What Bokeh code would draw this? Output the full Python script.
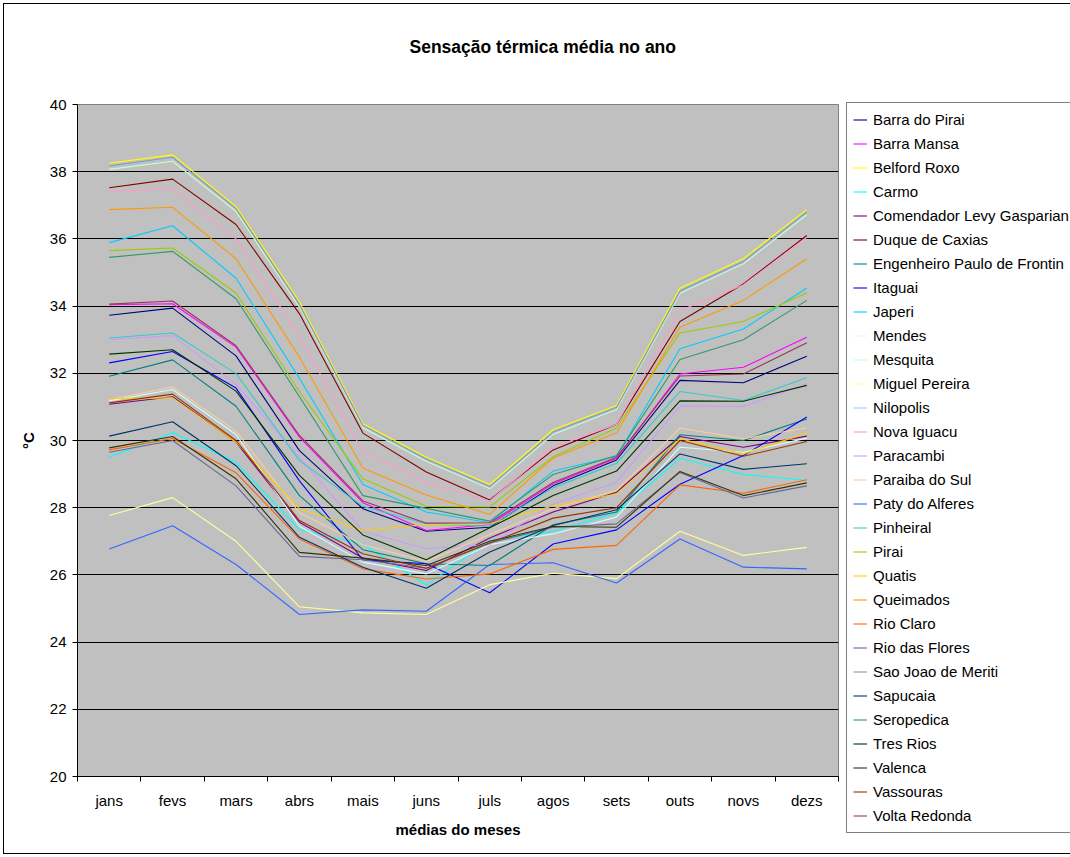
from bokeh.plotting import figure
from bokeh.models import Legend, LegendItem, FixedTicker, Range1d, Title
from bokeh.embed import file_html
from bokeh.resources import INLINE

# ---- data -------------------------------------------------------------
months = ["jans", "fevs", "mars", "abrs", "mais", "juns",
          "juls", "agos", "sets", "outs", "novs", "dezs"]

barra_do_pirai = [33.73, 33.94, 32.52, 29.70, 27.97, 27.30, 27.42, 28.65, 29.42, 31.79, 31.72, 32.51]
barra_mansa = [34.04, 34.07, 32.78, 30.10, 28.15, 27.32, 27.50, 28.71, 29.47, 31.98, 32.18, 33.07]
belford_roxo = [38.25, 38.50, 36.96, 34.12, 30.50, 29.50, 28.69, 30.32, 31.04, 34.53, 35.41, 36.87]
carmo = [29.50, 30.24, 29.35, 27.35, 26.92, 25.70, 27.02, 27.30, 27.84, 29.47, 28.99, 28.81]
comendador_levy_gasparian = [31.08, 31.30, 29.95, 27.57, 26.50, 26.13, 27.10, 27.87, 28.46, 30.12, 29.80, 30.13]
duque_de_caxias = [37.52, 37.78, 36.43, 33.77, 30.22, 29.06, 28.23, 29.72, 30.48, 33.54, 34.66, 36.10]
engenheiro_paulo_de_frontin = [31.91, 32.40, 31.02, 28.36, 26.75, 26.33, 26.28, 27.49, 27.87, 30.17, 30.00, 30.64]
itaguai = [32.31, 32.65, 31.56, 28.80, 26.45, 26.33, 25.47, 26.92, 27.34, 28.70, 29.55, 30.70]
japeri = [35.89, 36.39, 34.83, 31.85, 28.69, 27.87, 27.55, 29.09, 29.53, 32.73, 33.32, 34.54]
mendes = [31.18, 31.52, 30.18, 27.45, 26.38, 26.03, 26.90, 27.22, 27.72, 29.80, 29.65, 30.07]
mesquita = [38.07, 38.31, 36.82, 33.97, 30.38, 29.38, 28.57, 30.18, 30.92, 34.38, 35.26, 36.72]
miguel_pereira = [27.77, 28.30, 27.00, 25.05, 24.87, 24.82, 25.71, 26.05, 25.89, 27.30, 26.58, 26.82]
nilopolis = [38.15, 38.40, 36.88, 34.02, 30.42, 29.42, 28.60, 30.22, 30.95, 34.42, 35.30, 36.77]
nova_iguacu = [37.41, 37.49, 36.00, 33.10, 29.67, 28.76, 28.20, 29.80, 30.48, 33.87, 34.63, 36.05]
paracambi = [33.00, 33.12, 31.67, 29.50, 27.30, 26.78, 26.90, 28.11, 28.76, 31.03, 31.01, 31.69]
paraiba_do_sul = [31.22, 31.59, 30.28, 27.85, 26.90, 26.40, 27.20, 27.97, 28.51, 30.37, 30.05, 30.38]
paty_do_alferes = [26.77, 27.46, 26.31, 24.82, 24.96, 24.92, 26.31, 26.36, 25.76, 27.07, 26.23, 26.18]
pinheiral = [33.05, 33.20, 31.99, 29.40, 28.04, 27.52, 27.45, 28.59, 29.32, 31.46, 31.19, 31.87]
pirai = [35.65, 35.73, 34.39, 31.45, 28.86, 28.04, 28.02, 29.52, 30.37, 33.20, 33.54, 34.40]
quatis = [31.25, 31.27, 29.95, 27.97, 27.32, 27.50, 27.52, 28.06, 28.41, 30.05, 29.60, 30.22]
queimados = [36.87, 36.94, 35.41, 32.48, 29.18, 28.38, 27.80, 29.48, 30.23, 33.37, 34.17, 35.41]
rio_claro = [29.72, 30.06, 29.04, 27.07, 26.18, 25.88, 26.03, 26.76, 26.88, 28.68, 28.43, 28.83]
rio_das_flores = [29.65, 30.00, 28.65, 26.55, 26.45, 26.20, 26.95, 27.42, 27.52, 29.05, 28.29, 28.65]
sao_joao_de_meriti = [38.17, 38.43, 36.90, 34.05, 30.45, 29.45, 28.63, 30.25, 30.99, 34.45, 35.33, 36.80]
sapucaia = [30.13, 30.56, 29.25, 27.12, 26.23, 25.60, 26.68, 27.47, 27.94, 29.60, 29.14, 29.31]
seropedica = [35.45, 35.63, 34.22, 31.30, 28.36, 27.98, 27.60, 28.99, 29.55, 32.41, 33.00, 34.17]
tres_rios = [32.57, 32.70, 31.47, 28.96, 27.19, 26.45, 27.40, 28.36, 29.09, 31.18, 31.17, 31.64]
valenca = [29.78, 30.12, 28.86, 26.67, 26.50, 26.28, 27.00, 27.44, 27.42, 29.08, 28.36, 28.74]
vassouras = [31.12, 31.38, 30.00, 27.62, 26.63, 26.20, 26.95, 27.69, 28.00, 30.00, 29.53, 29.97]
volta_redonda = [34.06, 34.15, 32.82, 30.15, 28.20, 27.54, 27.55, 28.75, 29.50, 31.92, 31.98, 32.91]

y_ticks = [20, 22, 24, 26, 28, 30, 32, 34, 36, 38, 40]

series = [
    ("Barra do Pirai", barra_do_pirai),
    ("Barra Mansa", barra_mansa),
    ("Belford Roxo", belford_roxo),
    ("Carmo", carmo),
    ("Comendador Levy Gasparian", comendador_levy_gasparian),
    ("Duque de Caxias", duque_de_caxias),
    ("Engenheiro Paulo de Frontin", engenheiro_paulo_de_frontin),
    ("Itaguai", itaguai),
    ("Japeri", japeri),
    ("Mendes", mendes),
    ("Mesquita", mesquita),
    ("Miguel Pereira", miguel_pereira),
    ("Nilopolis", nilopolis),
    ("Nova Iguacu", nova_iguacu),
    ("Paracambi", paracambi),
    ("Paraiba do Sul", paraiba_do_sul),
    ("Paty do Alferes", paty_do_alferes),
    ("Pinheiral", pinheiral),
    ("Pirai", pirai),
    ("Quatis", quatis),
    ("Queimados", queimados),
    ("Rio Claro", rio_claro),
    ("Rio das Flores", rio_das_flores),
    ("Sao Joao de Meriti", sao_joao_de_meriti),
    ("Sapucaia", sapucaia),
    ("Seropedica", seropedica),
    ("Tres Rios", tres_rios),
    ("Valenca", valenca),
    ("Vassouras", vassouras),
    ("Volta Redonda", volta_redonda),
]

# classic spreadsheet line palette, one colour per series
palette = ["#000080", "#FF00FF", "#FFFF00", "#00FFFF", "#800080", "#800000",
           "#008080", "#0000FF", "#00CCFF", "#CCFFFF", "#CCFFCC", "#FFFF99",
           "#99CCFF", "#FF99CC", "#CC99FF", "#FFCC99", "#3366FF", "#33CCCC",
           "#99CC00", "#FFCC00", "#FF9900", "#FF6600", "#666699", "#969696",
           "#003366", "#339966", "#003300", "#333300", "#993300", "#993366"]

FONT = "Liberation Sans"

# category centres sit half way between the integer boundaries
x_pos = [i + 0.5 for i in range(len(months))]

# fixed plot-area size; the side panels take whatever room they need
p = figure(frame_width=761, frame_height=672, output_backend="svg",
           toolbar_location=None, title=None,
           x_range=Range1d(0, len(months)), y_range=Range1d(20, 40),
           min_border_left=73, min_border_right=0,
           min_border_top=100, min_border_bottom=77)

# thin black frame round the whole chart
p.styles = {"margin-left": "3px", "margin-top": "3px", "border": "1px solid black"}

p.background_fill_color = "#C0C0C0"
p.border_fill_color = "white"
p.outline_line_color = "#808080"
p.outline_line_width = 1

# chart title: an invisible spacer keeps it clear of the plot area
spacer = Title(text=" ", text_font_size="2px", standoff=44, text_color="white")
p.add_layout(spacer, "above")
main_title = Title(text="Sensação térmica média no ano", align="left", offset=332,
                   standoff=0, text_font=FONT, text_font_size="17.5px",
                   text_font_style="bold", text_color="black")
p.add_layout(main_title, "above")

# horizontal grid lines
p.xgrid.visible = False
p.ygrid.ticker = FixedTicker(ticks=y_ticks[1:-1])
p.ygrid.grid_line_color = "black"
p.ygrid.grid_line_width = 1

# y axis
p.yaxis.ticker = FixedTicker(ticks=y_ticks)
p.yaxis.axis_label = "°C"
p.yaxis.major_tick_out = 5
p.yaxis.major_tick_in = 0
p.yaxis.minor_tick_line_color = None
p.yaxis.major_label_standoff = 6
p.yaxis.axis_label_standoff = 10

# x axis: labels at centres, tick marks between categories
p.xaxis.ticker = FixedTicker(ticks=x_pos, minor_ticks=list(range(len(months) + 1)))
p.xaxis.major_label_overrides = {x: m for x, m in zip(x_pos, months)}
p.xaxis.axis_label = "médias do meses"
p.xaxis.major_tick_out = 0
p.xaxis.major_tick_in = 0
p.xaxis.minor_tick_out = 5
p.xaxis.minor_tick_in = 0
p.xaxis.major_label_standoff = 10
p.xaxis.axis_label_standoff = 9

for ax in (p.xaxis[0], p.yaxis[0]):
    ax.axis_line_color = "black"
    ax.major_tick_line_color = "black"
    ax.major_label_text_font = FONT
    ax.major_label_text_font_size = "15px"
    ax.major_label_text_color = "black"
    ax.axis_label_text_font = FONT
    ax.axis_label_text_font_size = "15px"
    ax.axis_label_text_font_style = "bold"
    ax.axis_label_text_color = "black"
p.xaxis.minor_tick_line_color = "black"

# series lines
items = []
for (name, vals), col in zip(series, palette):
    r = p.line(x_pos, vals, line_color=col, line_width=1.1)
    items.append(LegendItem(label=name, renderers=[r]))

# legend box just right of the plot area, a little taller than it
legend = Legend(items=items, location=(8, -57),
                border_line_color="black", border_line_width=1,
                background_fill_color="white", background_fill_alpha=1,
                padding=6, spacing=3, margin=0,
                label_height=21, glyph_height=21, glyph_width=14,
                label_standoff=6,
                label_text_font=FONT, label_text_font_size="15px",
                label_text_color="black")
p.add_layout(legend, "right")

html = file_html(p, INLINE, title="Sensação térmica média no ano")
html = html.replace("<body>", '<body style="margin:0; overflow:hidden">', 1)
open("out.html", "w").write(html)
